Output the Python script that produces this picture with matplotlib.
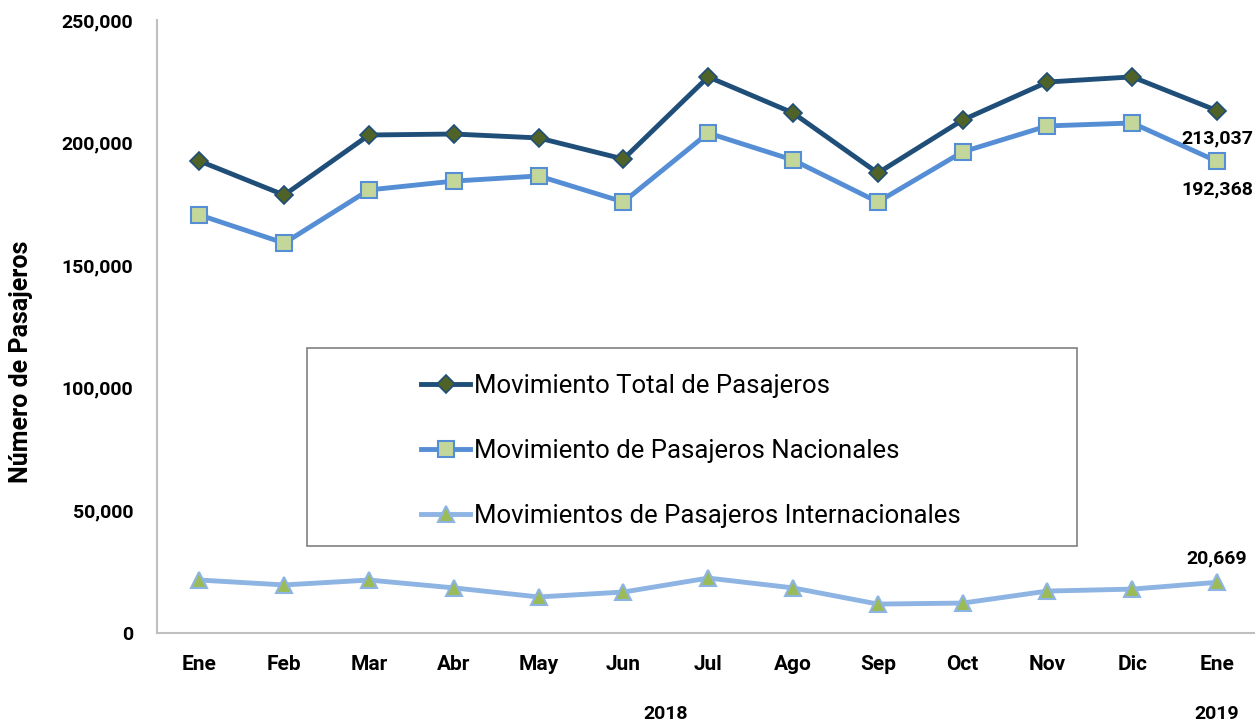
import numpy as np
import matplotlib.pyplot as plt
from matplotlib.patches import Rectangle

plt.rcParams['font.family'] = ['Roboto', 'DejaVu Sans']

meses = ["Ene", "Feb", "Mar", "Abr", "May", "Jun", "Jul", "Ago", "Sep", "Oct", "Nov", "Dic", "Ene"]
total = [192500, 178600, 203100, 203500, 201900, 193300, 226800, 212100, 187600, 209200, 224700, 226800, 213037]
nacional = [170500, 159000, 180700, 184300, 186400, 175800, 203900, 192900, 175800, 196200, 206800, 208000, 192368]
internacional = [21600, 19600, 21600, 18400, 14700, 16700, 22400, 18400, 11800, 12200, 17100, 17900, 20669]
y_ticks = [0, 50000, 100000, 150000, 200000, 250000]

x = np.arange(len(meses))

fig = plt.figure(figsize=(12.55, 7.22), dpi=100)
ax = fig.add_axes([157/1255, 89/722, 1098/1255, 613/722])

l1, = ax.plot(x, total, color="#1f4e79", lw=3.5, marker="D", ms=9.5,
              mfc="#4f6228", mec="#1f4e79", mew=1.2, label="Movimiento Total de Pasajeros")
l2, = ax.plot(x, nacional, color="#558ed5", lw=3.5, marker="s", ms=11,
              mfc="#c4d79b", mec="#558ed5", mew=1.5, label="Movimiento de Pasajeros Nacionales")
l3, = ax.plot(x, internacional, color="#8db4e2", lw=3.5, marker="^", ms=11,
              mfc="#9bbb59", mec="#8db4e2", mew=1.5, label="Movimientos de Pasajeros Internacionales")

ax.set_xlim(-0.5, -0.5 + 1098/84.8)
ax.set_ylim(0, 250000)
ax.set_yticks(y_ticks)
ax.set_yticklabels([f"{v:,}" for v in y_ticks], fontsize=14, fontweight="bold")
ax.set_xticks(x)
ax.set_xticklabels(meses, fontsize=15, fontweight="bold")
ax.tick_params(length=0)
ax.tick_params(axis="x", pad=16)
ax.tick_params(axis="y", pad=17)

for s in ["top", "right"]:
    ax.spines[s].set_visible(False)
for s in ["left", "bottom"]:
    ax.spines[s].set_color("#bfbfbf")
    ax.spines[s].set_linewidth(1.5)

ax.set_ylabel("Número de Pasajeros", fontsize=18, fontweight="semibold")
ax.yaxis.set_label_coords(-0.113, 0.442)

# etiquetas del último punto
ax.annotate(f"{total[-1]:,}", (x[-1], total[-1]), xytext=(0, -20), textcoords="offset points",
            ha="center", va="center", fontsize=14, fontweight="bold")
ax.annotate(f"{nacional[-1]:,}", (x[-1], nacional[-1]), xytext=(0, -20), textcoords="offset points",
            ha="center", va="center", fontsize=14, fontweight="bold")
ax.annotate(f"{internacional[-1]:,}", (x[-1], internacional[-1]), xytext=(0, 17), textcoords="offset points",
            ha="center", va="center", fontsize=14, fontweight="bold")

# años
ax.text(5.5, -0.132, "2018", transform=ax.get_xaxis_transform(), ha="center", va="center",
        fontsize=14, fontweight="bold")
ax.text(12, -0.132, "2019", transform=ax.get_xaxis_transform(), ha="center", va="center",
        fontsize=14, fontweight="bold")

# caja de leyenda
box = Rectangle((307/1255, (722-546)/722), (1077-307)/1255, (546-348)/722,
                transform=fig.transFigure, fill=True, facecolor="white",
                edgecolor="#808080", lw=1.2, zorder=5)
fig.patches.append(box)
leg = fig.legend(handles=[l1, l2, l3], loc="upper left",
                 bbox_to_anchor=(398/1255, (722-351)/722), frameon=False,
                 fontsize=18.5, labelspacing=1.6, handlelength=1.9, handletextpad=0.15)
leg.set_zorder(6)

fig.savefig("out.png", dpi=100)
